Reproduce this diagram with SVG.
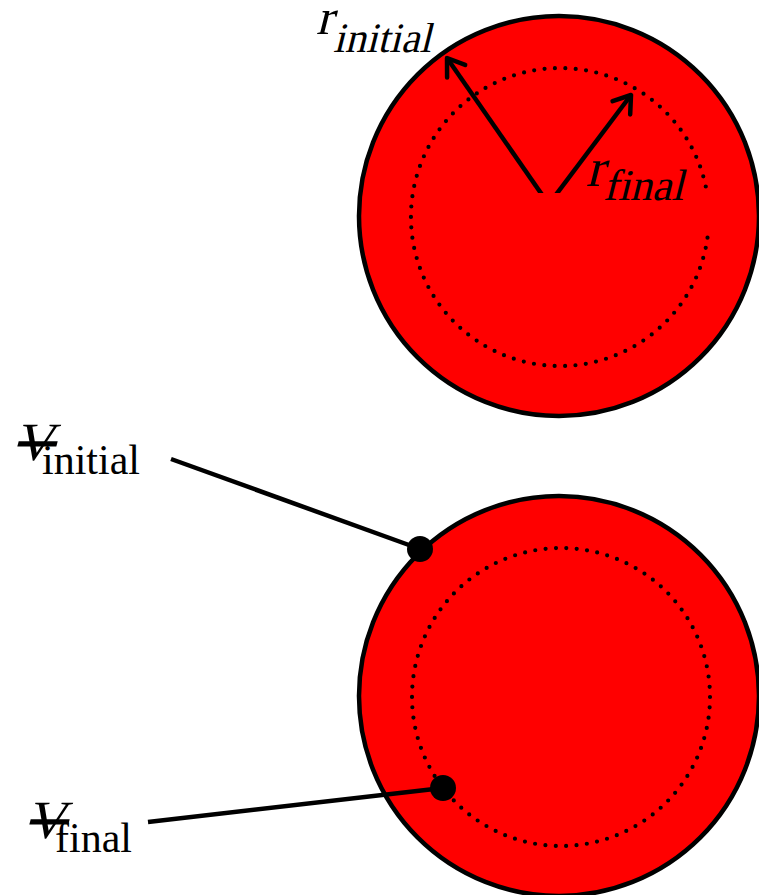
<svg xmlns="http://www.w3.org/2000/svg" width="759" height="895" viewBox="0 0 759 895">
<style>
.ball{fill:#ff0000;stroke:#000;stroke-width:4.5}
.dots{fill:none;stroke:#000;stroke-width:4.2;stroke-linecap:round;stroke-dasharray:0 10.4}
.ln{stroke:#000;stroke-width:4.5;fill:none}
.t{font-family:'Liberation Serif','Times New Roman',serif;fill:#000}
.vb{text-decoration:line-through}
</style>
<defs>
<marker id="ah" markerUnits="userSpaceOnUse" viewBox="-20 -14 24 28" refX="0" refY="0" markerWidth="24" markerHeight="28" orient="auto">
<path d="M-16,-11 L0,0 L-16,11" fill="none" stroke="#000" stroke-width="4.5" stroke-linecap="round" stroke-linejoin="round"/>
</marker>
<clipPath id="cut"><rect x="0" y="0" width="759" height="193"/></clipPath>
</defs>
<g id="initial-sphere">
<circle class="ball" cx="559" cy="216" r="200"/>
<path class="dots" d="M 707.5 237.7 A 149 149 0 1 1 707.1 193.7"/>
</g>
<g id="final-sphere">
<circle class="ball" cx="559" cy="696" r="200"/>
<circle class="dots" cx="561" cy="697" r="149"/>
</g>
<g id="connectors">
<g clip-path="url(#cut)">
<line class="ln" x1="545" y1="199" x2="447" y2="58" marker-end="url(#ah)"/>
<line class="ln" x1="552" y1="200" x2="631" y2="95" marker-end="url(#ah)"/>
</g>
<line class="ln" x1="171" y1="459" x2="420" y2="549"/>
<circle cx="420" cy="549" r="13" fill="#000"/>
<line class="ln" x1="148" y1="822" x2="443" y2="788"/>
<circle cx="443" cy="788" r="13" fill="#000"/>
</g>
<g id="label-r-initial">
<text class="t" transform="translate(316,34) skewX(-14)" font-size="50">r</text>
<text class="t" transform="translate(333,52) skewX(-14)" font-size="42">initial</text>
</g>
<g id="label-r-final">
<text class="t" transform="translate(586,186) skewX(-14)" font-size="54">r</text>
<text class="t" transform="translate(603,200) skewX(-14)" font-size="44">final</text>
</g>
<g id="label-v-initial">
<text class="t vb" transform="translate(14,460) skewX(-14)" font-size="54">V</text>
<text class="t" x="42" y="474" font-size="42">initial</text>
</g>
<g id="label-v-final">
<text class="t vb" transform="translate(26,838) skewX(-14)" font-size="54">V</text>
<text class="t" x="55" y="852" font-size="42">final</text>
</g>
</svg>
